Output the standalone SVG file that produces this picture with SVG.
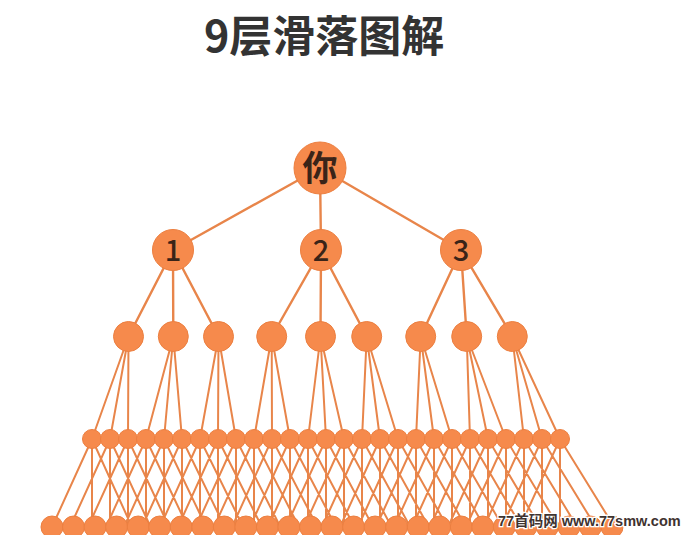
<svg xmlns="http://www.w3.org/2000/svg" width="684" height="535" viewBox="0 0 684 535">
<style>
.n{fill:#f68a4c;stroke:#ec7f40;stroke-width:1}
.c{stroke:#e8854a;stroke-width:2.4;fill:none;stroke-linecap:round}
.c2{stroke:#e8854a;stroke-width:2;fill:none;stroke-linecap:round}
.lbl{font-family:"Noto Sans CJK SC","Liberation Sans",sans-serif;fill:#3a2418;text-anchor:middle;font-weight:bold}
.dig{font-weight:500}
.title{font-family:"Noto Sans CJK SC","Liberation Sans",sans-serif;fill:#333;font-weight:bold;font-size:43px}
.wm{font-family:"Liberation Sans","Noto Sans CJK SC",sans-serif;font-weight:bold;font-size:14.5px;fill:#3f3330;stroke:#fff;stroke-width:2.5;paint-order:stroke}
</style>
<rect width="684" height="535" fill="#fff"/>
<text class="title" x="204" y="51.5">9层滑落图解</text>
<g id="connectors">
<path class="c" d="M320 168 L173 250 M320 168 L321 250 M320 168 L461 250"/>
<path class="c" d="M173 250 L128.5 336.5 M173 250 L173.3 336.5 M173 250 L218.5 336.5 M321 250 L271.7 336.5 M321 250 L320.5 336.5 M321 250 L366.7 336.5 M461 250 L420.7 336.5 M461 250 L466.7 336.5 M461 250 L512.3 336.5"/>
<path class="c2" d="M128.5 336.5 L92 439 M128.5 336.5 L110 439 M128.5 336.5 L128 439 M173.3 336.5 L146 439 M173.3 336.5 L164 439 M173.3 336.5 L182 439 M218.5 336.5 L200 439 M218.5 336.5 L218 439 M218.5 336.5 L236 439 M271.7 336.5 L254 439 M271.7 336.5 L272 439 M271.7 336.5 L290 439 M320.5 336.5 L308 439 M320.5 336.5 L326 439 M320.5 336.5 L344 439 M366.7 336.5 L362 439 M366.7 336.5 L380 439 M366.7 336.5 L398 439 M420.7 336.5 L416 439 M420.7 336.5 L434 439 M420.7 336.5 L452 439 M466.7 336.5 L470 439 M466.7 336.5 L488 439 M466.7 336.5 L506 439 M512.3 336.5 L524 439 M512.3 336.5 L542 439 M512.3 336.5 L560 439"/>
<path class="c2" d="M92 439 L52 527 M92 439 V527 M92 439 L132 527
M110 439 L70 527 M110 439 V527 M110 439 L150.6 527
M128 439 L88 527 M128 439 V527 M128 439 L169.1 527
M146 439 L106 527 M146 439 V527 M146 439 L187.7 527
M164 439 L124 527 M164 439 V527 M164 439 L206.2 527
M182 439 L142 527 M182 439 V527 M182 439 L224.8 527
M200 439 L160 527 M200 439 V527 M200 439 L243.3 527
M218 439 L178 527 M218 439 V527 M218 439 L261.9 527
M236 439 L196 527 M236 439 V527 M236 439 L280.4 527
M254 439 L214 527 M254 439 V527 M254 439 L299 527
M272 439 L232 527 M272 439 V527 M272 439 L317.5 527
M290 439 L250 527 M290 439 V527 M290 439 L336 527
M308 439 L268 527 M308 439 V527 M308 439 L354.6 527
M326 439 L286 527 M326 439 V527 M326 439 L373.2 527
M344 439 L304 527 M344 439 V527 M344 439 L391.7 527
M362 439 L322 527 M362 439 V527 M362 439 L410.3 527
M380 439 L340 527 M380 439 V527 M380 439 L428.8 527
M398 439 L358 527 M398 439 V527 M398 439 L447.4 527
M416 439 L376 527 M416 439 V527 M416 439 L465.9 527
M434 439 L394 527 M434 439 V527 M434 439 L484.5 527
M452 439 L412 527 M452 439 V527 M452 439 L503 527
M470 439 L430 527 M470 439 V527 M470 439 L521.6 527
M488 439 L448 527 M488 439 V527 M488 439 L540.1 527
M506 439 L466 527 M506 439 V527 M506 439 L558.7 527
M524 439 L484 527 M524 439 V527 M524 439 L577.2 527
M542 439 L502 527 M542 439 V527 M542 439 L595.8 527
M560 439 L520 527 M560 439 V527 M560 439 L614.3 527"/>
</g>
<g id="root"><circle class="n" cx="320" cy="168" r="26"/><text class="lbl" x="320" y="181" font-size="35">你</text></g>
<g id="n1"><circle class="n" cx="173" cy="250" r="20.5"/><text class="lbl dig" x="173" y="261" font-size="29">1</text></g>
<g id="n2"><circle class="n" cx="321" cy="250" r="20.5"/><text class="lbl dig" x="321" y="261" font-size="29">2</text></g>
<g id="n3"><circle class="n" cx="461" cy="250" r="20.5"/><text class="lbl dig" x="461" y="261" font-size="29">3</text></g>
<g id="l2">
<g id="l2-1"><circle class="n" cx="128.5" cy="336.5" r="15"/></g>
<g id="l2-2"><circle class="n" cx="173.3" cy="336.5" r="15"/></g>
<g id="l2-3"><circle class="n" cx="218.5" cy="336.5" r="15"/></g>
<g id="l2-4"><circle class="n" cx="271.7" cy="336.5" r="15"/></g>
<g id="l2-5"><circle class="n" cx="320.5" cy="336.5" r="15"/></g>
<g id="l2-6"><circle class="n" cx="366.7" cy="336.5" r="15"/></g>
<g id="l2-7"><circle class="n" cx="420.7" cy="336.5" r="15"/></g>
<g id="l2-8"><circle class="n" cx="466.7" cy="336.5" r="15"/></g>
<g id="l2-9"><circle class="n" cx="512.3" cy="336.5" r="15"/></g>
</g>
<g id="l3">
<g id="l3-1"><circle class="n" cx="92" cy="439" r="9.5"/></g>
<g id="l3-2"><circle class="n" cx="110" cy="439" r="9.5"/></g>
<g id="l3-3"><circle class="n" cx="128" cy="439" r="9.5"/></g>
<g id="l3-4"><circle class="n" cx="146" cy="439" r="9.5"/></g>
<g id="l3-5"><circle class="n" cx="164" cy="439" r="9.5"/></g>
<g id="l3-6"><circle class="n" cx="182" cy="439" r="9.5"/></g>
<g id="l3-7"><circle class="n" cx="200" cy="439" r="9.5"/></g>
<g id="l3-8"><circle class="n" cx="218" cy="439" r="9.5"/></g>
<g id="l3-9"><circle class="n" cx="236" cy="439" r="9.5"/></g>
<g id="l3-10"><circle class="n" cx="254" cy="439" r="9.5"/></g>
<g id="l3-11"><circle class="n" cx="272" cy="439" r="9.5"/></g>
<g id="l3-12"><circle class="n" cx="290" cy="439" r="9.5"/></g>
<g id="l3-13"><circle class="n" cx="308" cy="439" r="9.5"/></g>
<g id="l3-14"><circle class="n" cx="326" cy="439" r="9.5"/></g>
<g id="l3-15"><circle class="n" cx="344" cy="439" r="9.5"/></g>
<g id="l3-16"><circle class="n" cx="362" cy="439" r="9.5"/></g>
<g id="l3-17"><circle class="n" cx="380" cy="439" r="9.5"/></g>
<g id="l3-18"><circle class="n" cx="398" cy="439" r="9.5"/></g>
<g id="l3-19"><circle class="n" cx="416" cy="439" r="9.5"/></g>
<g id="l3-20"><circle class="n" cx="434" cy="439" r="9.5"/></g>
<g id="l3-21"><circle class="n" cx="452" cy="439" r="9.5"/></g>
<g id="l3-22"><circle class="n" cx="470" cy="439" r="9.5"/></g>
<g id="l3-23"><circle class="n" cx="488" cy="439" r="9.5"/></g>
<g id="l3-24"><circle class="n" cx="506" cy="439" r="9.5"/></g>
<g id="l3-25"><circle class="n" cx="524" cy="439" r="9.5"/></g>
<g id="l3-26"><circle class="n" cx="542" cy="439" r="9.5"/></g>
<g id="l3-27"><circle class="n" cx="560" cy="439" r="9.5"/></g>
</g>
<g id="l4">
<g id="l4-1"><circle class="n" cx="52" cy="527" r="11"/></g>
<g id="l4-2"><circle class="n" cx="73.5" cy="527" r="11"/></g>
<g id="l4-3"><circle class="n" cx="95.1" cy="527" r="11"/></g>
<g id="l4-4"><circle class="n" cx="116.6" cy="527" r="11"/></g>
<g id="l4-5"><circle class="n" cx="138.2" cy="527" r="11"/></g>
<g id="l4-6"><circle class="n" cx="159.7" cy="527" r="11"/></g>
<g id="l4-7"><circle class="n" cx="181.2" cy="527" r="11"/></g>
<g id="l4-8"><circle class="n" cx="202.8" cy="527" r="11"/></g>
<g id="l4-9"><circle class="n" cx="224.3" cy="527" r="11"/></g>
<g id="l4-10"><circle class="n" cx="245.9" cy="527" r="11"/></g>
<g id="l4-11"><circle class="n" cx="267.4" cy="527" r="11"/></g>
<g id="l4-12"><circle class="n" cx="288.9" cy="527" r="11"/></g>
<g id="l4-13"><circle class="n" cx="310.5" cy="527" r="11"/></g>
<g id="l4-14"><circle class="n" cx="332" cy="527" r="11"/></g>
<g id="l4-15"><circle class="n" cx="353.6" cy="527" r="11"/></g>
<g id="l4-16"><circle class="n" cx="375.1" cy="527" r="11"/></g>
<g id="l4-17"><circle class="n" cx="396.6" cy="527" r="11"/></g>
<g id="l4-18"><circle class="n" cx="418.2" cy="527" r="11"/></g>
<g id="l4-19"><circle class="n" cx="439.7" cy="527" r="11"/></g>
<g id="l4-20"><circle class="n" cx="461.3" cy="527" r="11"/></g>
<g id="l4-21"><circle class="n" cx="482.8" cy="527" r="11"/></g>
<g id="l4-22"><circle class="n" cx="504.3" cy="527" r="11"/></g>
<g id="l4-23"><circle class="n" cx="525.9" cy="527" r="11"/></g>
<g id="l4-24"><circle class="n" cx="547.4" cy="527" r="11"/></g>
<g id="l4-25"><circle class="n" cx="569" cy="527" r="11"/></g>
<g id="l4-26"><circle class="n" cx="590.5" cy="527" r="11"/></g>
<g id="l4-27"><circle class="n" cx="612" cy="527" r="11"/></g>
</g>
<text class="wm" x="498" y="526">77首码网 www.77smw.com</text>
</svg>
